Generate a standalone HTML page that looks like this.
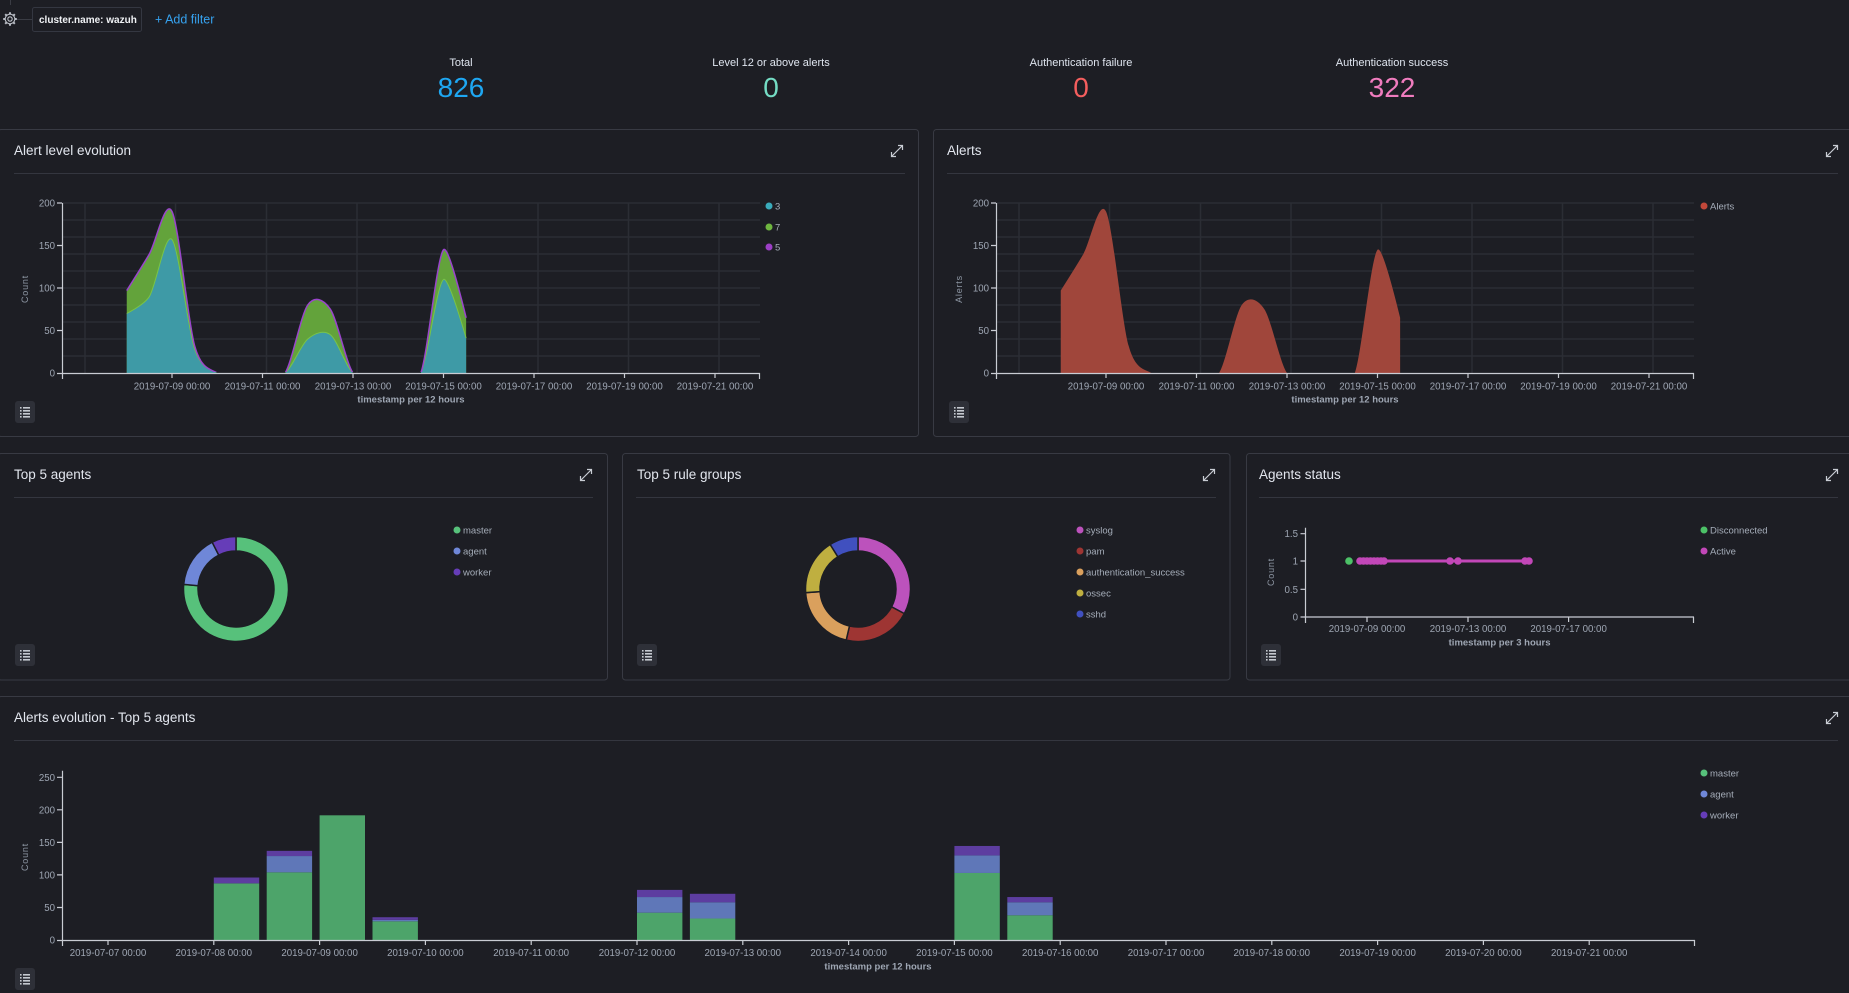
<!DOCTYPE html>
<html><head><meta charset="utf-8"><style>
html,body{margin:0;padding:0;background:#1d1e24;overflow:hidden;}
svg{display:block;}
text{font-family:"Liberation Sans",sans-serif;}
.tk{font-size:9.7px;fill:#9ea6b3;}
.lg{font-size:9.5px;fill:#a5adb9;}
.ax{font-size:9.5px;font-weight:bold;fill:#9ea6b3;}
.tt{font-size:13.5px;fill:#e2e6ee;}
.yl{font-size:9px;fill:#8d96a3;letter-spacing:0.8px;}
.sl{font-size:11px;fill:#dfe5ef;}
.sv{font-size:28px;}
</style></head><body>
<svg width="1849" height="993" viewBox="0 0 1849 993" xmlns="http://www.w3.org/2000/svg">
<defs>
<clipPath id="c1"><rect x="62" y="190" width="698" height="183"/></clipPath>
<clipPath id="c2"><rect x="62" y="190" width="698" height="182"/></clipPath>
<g id="lb"><rect width="20" height="22" rx="3" fill="#2e3038"/><g fill="#c5c9d0"><rect x="5" y="6" width="1.6" height="1.6"/><rect x="5" y="9" width="1.6" height="1.6"/><rect x="5" y="12" width="1.6" height="1.6"/><rect x="5" y="15" width="1.6" height="1.6"/><rect x="8" y="6" width="7" height="1.6"/><rect x="8" y="9" width="7" height="1.6"/><rect x="8" y="12" width="7" height="1.6"/><rect x="8" y="15" width="7" height="1.6"/></g></g>
<g id="ex" fill="none" stroke="#c9cdd4" stroke-width="1.2"><path d="M-5.5 5.5L5.5 -5.5M1 -5.5H5.5V-1M-5.5 1V5.5H-1"/></g>
</defs>
<rect width="1849" height="993" fill="#1d1e24"/>

<!-- top bar -->
<line x1="10.5" y1="0" x2="10.5" y2="5" stroke="#3a3c44"/>
<line x1="16" y1="19.5" x2="32" y2="19.5" stroke="#3a3c44"/>
<g transform="translate(10,19)" fill="none" stroke="#b8bcc4">
<circle r="2.2" stroke-width="1.1"/><circle r="4.8" stroke-width="1.1"/>
<path stroke-width="2" d="M0 -5V-6.8M0 5V6.8M-5 0H-6.8M5 0H6.8M3.5 3.5L4.8 4.8M-3.5 -3.5L-4.8 -4.8M3.5 -3.5L4.8 -4.8M-3.5 3.5L-4.8 4.8"/>
</g>
<rect x="32.5" y="7.5" width="109" height="24" rx="2" fill="#1d1e24" stroke="#343741"/>
<text x="39" y="23" font-size="10" font-weight="bold" fill="#f0f2f5">cluster.name: wazuh</text>
<text x="155" y="23.5" font-size="12.5" fill="#36a2ef">+ Add filter</text>

<!-- stats -->
<g text-anchor="middle">
<text class="sl" x="461" y="66">Total</text>
<text class="sv" x="461" y="97" fill="#1ea7f2">826</text>
<text class="sl" x="771" y="66">Level 12 or above alerts</text>
<text class="sv" x="771" y="97" fill="#74dcc4">0</text>
<text class="sl" x="1081" y="66">Authentication failure</text>
<text class="sv" x="1081" y="97" fill="#f45e5e">0</text>
<text class="sl" x="1392" y="66">Authentication success</text>
<text class="sv" x="1392" y="97" fill="#f07cbe">322</text>
</g>

<!-- panels -->
<g fill="#1d1e24" stroke="#383a43" stroke-width="1">
<rect x="-2" y="129.5" width="920.5" height="307" rx="3"/>
<rect x="933.5" y="129.5" width="930" height="307" rx="3"/>
<rect x="-2" y="453.5" width="609.5" height="226.5" rx="3"/>
<rect x="622.5" y="453.5" width="607.5" height="226.5" rx="3"/>
<rect x="1246.5" y="453.5" width="620" height="226.5" rx="3"/>
<rect x="-2" y="696.5" width="1870" height="320" rx="3"/>
</g>
<g stroke="#34363f" stroke-width="1">
<line x1="14" y1="173.5" x2="905" y2="173.5"/>
<line x1="947" y1="173.5" x2="1838" y2="173.5"/>
<line x1="14" y1="497.5" x2="593" y2="497.5"/>
<line x1="636" y1="497.5" x2="1216" y2="497.5"/>
<line x1="1259" y1="497.5" x2="1838" y2="497.5"/>
<line x1="14" y1="740.5" x2="1838" y2="740.5"/>
</g>
<text class="tt" x="14" y="155">Alert level evolution</text>
<text class="tt" x="947" y="155">Alerts</text>
<text class="tt" x="14" y="479">Top 5 agents</text>
<text class="tt" x="637" y="479">Top 5 rule groups</text>
<text class="tt" x="1259" y="479">Agents status</text>
<text class="tt" x="14" y="722">Alerts evolution - Top 5 agents</text>

<use href="#ex" x="897" y="151"/>
<use href="#ex" x="1832" y="151"/>
<use href="#ex" x="586" y="475"/>
<use href="#ex" x="1209" y="475"/>
<use href="#ex" x="1832" y="475"/>
<use href="#ex" x="1832" y="718"/>

<use href="#lb" x="15" y="401"/>
<use href="#lb" x="949" y="401"/>
<use href="#lb" x="15" y="644"/>
<use href="#lb" x="637" y="644"/>
<use href="#lb" x="1261" y="644"/>
<use href="#lb" x="15" y="968"/>

<!-- Alert level evolution chart -->
<g>
<g stroke="#2b2d34" stroke-width="1.5" fill="none">
<path d="M62 356H760M62 339H760M62 322H760M62 305H760M62 288H760M62 271H760M62 254H760M62 237H760M62 220H760M62 203H760"/>
<path d="M85 203V373M175.5 203V373M266.5 203V373M357 203V373M447.5 203V373M538 203V373M628.5 203V373M719 203V373"/>
</g>
<g clip-path="url(#c1)">
<path fill="#63a33b" d="M126.75,290.55 Q144.85,261.9 149.38,254 C156.16,242.14 165.21,197.73 172,211.5 S187.84,321.57 194.63,345.8 S210.46,368.92 217.25,373 S233.09,373 239.88,373 S255.71,373 262.5,373 S278.34,383.2 285.13,373 S300.96,314.56 307.75,305 S323.59,299.05 330.38,309.25 S346.21,363.44 353,373 S368.84,373 375.63,373 S391.46,373 398.25,373 S414.09,391.49 420.88,373 S436.71,258.04 443.5,249.75 Q448.03,244.22 466.13,317.75 L466.13,373 L126.75,373 Z"/>
<path fill="#3e9aa6" d="M126.75,313.5 Q144.85,303.89 149.38,296.5 C156.16,285.41 165.21,231.65 172,239.55 S187.84,329.18 194.63,349.2 S210.46,369.43 217.25,373 S233.09,373 239.88,373 S255.71,373 262.5,373 S278.34,378.1 285.13,373 S300.96,344.74 307.75,339 S323.59,329.65 330.38,334.75 S346.21,367.26 353,373 S368.84,373 375.63,373 S391.46,373 398.25,373 S414.09,387.03 420.88,373 S436.71,284.73 443.5,279.5 Q448.03,276.01 466.13,338.15 L466.13,373 L126.75,373 Z"/>
</g>
<g clip-path="url(#c2)" fill="none">
<path stroke="#79c447" stroke-width="1" d="M126.75,313.5 Q144.85,303.89 149.38,296.5 C156.16,285.41 165.21,231.65 172,239.55 S187.84,329.18 194.63,349.2 S210.46,369.43 217.25,373 S233.09,373 239.88,373 S255.71,373 262.5,373 S278.34,378.1 285.13,373 S300.96,344.74 307.75,339 S323.59,329.65 330.38,334.75 S346.21,367.26 353,373 S368.84,373 375.63,373 S391.46,373 398.25,373 S414.09,387.03 420.88,373 S436.71,284.73 443.5,279.5 Q448.03,276.01 466.13,338.15"/>
<path stroke="#9a45cc" stroke-width="1.5" d="M126.75,290.55 Q144.85,261.9 149.38,254 C156.16,242.14 165.21,197.73 172,211.5 S187.84,321.57 194.63,345.8 S210.46,368.92 217.25,373 S233.09,373 239.88,373 S255.71,373 262.5,373 S278.34,383.2 285.13,373 S300.96,314.56 307.75,305 S323.59,299.05 330.38,309.25 S346.21,363.44 353,373 S368.84,373 375.63,373 S391.46,373 398.25,373 S414.09,391.49 420.88,373 S436.71,258.04 443.5,249.75 Q448.03,244.22 466.13,317.75"/>
</g>
<g stroke="#c9ccd3" stroke-width="1.2" fill="none">
<path d="M62.5 203V373.5H760"/>
<path d="M57 373.5H62M57 330.5H62M57 288H62M57 245.5H62M57 203H62"/>
<path d="M62.5 373V379M759.5 373V379M172 373V378M262.5 373V378M353 373V378M443.5 373V378M534 373V378M624.5 373V378M715 373V378"/>
</g>
<g class="tk" text-anchor="end">
<text x="55" y="376.5">0</text><text x="55" y="334">50</text><text x="55" y="291.5">100</text><text x="55" y="249">150</text><text x="55" y="206.5">200</text>
</g>
<g class="tk" text-anchor="middle">
<text x="172" y="389.5">2019-07-09 00:00</text><text x="262.5" y="389.5">2019-07-11 00:00</text><text x="353" y="389.5">2019-07-13 00:00</text><text x="443.5" y="389.5">2019-07-15 00:00</text><text x="534" y="389.5">2019-07-17 00:00</text><text x="624.5" y="389.5">2019-07-19 00:00</text><text x="715" y="389.5">2019-07-21 00:00</text>
</g>
<text class="ax" x="411" y="402.5" text-anchor="middle">timestamp per 12 hours</text>
<text class="yl" transform="translate(28,289) rotate(-90)" text-anchor="middle">Count</text>
<circle cx="769" cy="206" r="3.5" fill="#3aabbb"/><text class="lg" x="775" y="209.5">3</text>
<circle cx="769" cy="227" r="3.5" fill="#6fb640"/><text class="lg" x="775" y="230.5">7</text>
<circle cx="769" cy="247" r="3.5" fill="#9c3fc6"/><text class="lg" x="775" y="250.5">5</text>
</g>

<!-- Alerts chart -->
<g transform="translate(934,0)">
<g stroke="#2b2d34" stroke-width="1.5" fill="none">
<path d="M62 356H760M62 339H760M62 322H760M62 305H760M62 288H760M62 271H760M62 254H760M62 237H760M62 220H760M62 203H760"/>
<path d="M85 203V373M175.5 203V373M266.5 203V373M357 203V373M447.5 203V373M538 203V373M628.5 203V373M719 203V373"/>
</g>
<g clip-path="url(#c1)">
<path fill="#a0463b" d="M126.75,290.55 Q144.85,261.9 149.38,254 C156.16,242.14 165.21,197.73 172,211.5 S187.84,321.57 194.63,345.8 S210.46,368.92 217.25,373 S233.09,373 239.88,373 S255.71,373 262.5,373 S278.34,383.2 285.13,373 S300.96,314.56 307.75,305 S323.59,299.05 330.38,309.25 S346.21,363.44 353,373 S368.84,373 375.63,373 S391.46,373 398.25,373 S414.09,391.49 420.88,373 S436.71,258.04 443.5,249.75 Q448.03,244.22 466.13,317.75 L466.13,373 L126.75,373 Z"/>
</g>
<g stroke="#c9ccd3" stroke-width="1.2" fill="none">
<path d="M62.5 203V373.5H760"/>
<path d="M57 373.5H62M57 330.5H62M57 288H62M57 245.5H62M57 203H62"/>
<path d="M62.5 373V379M759.5 373V379M172 373V378M262.5 373V378M353 373V378M443.5 373V378M534 373V378M624.5 373V378M715 373V378"/>
</g>
<g class="tk" text-anchor="end">
<text x="55" y="376.5">0</text><text x="55" y="334">50</text><text x="55" y="291.5">100</text><text x="55" y="249">150</text><text x="55" y="206.5">200</text>
</g>
<g class="tk" text-anchor="middle">
<text x="172" y="389.5">2019-07-09 00:00</text><text x="262.5" y="389.5">2019-07-11 00:00</text><text x="353" y="389.5">2019-07-13 00:00</text><text x="443.5" y="389.5">2019-07-15 00:00</text><text x="534" y="389.5">2019-07-17 00:00</text><text x="624.5" y="389.5">2019-07-19 00:00</text><text x="715" y="389.5">2019-07-21 00:00</text>
</g>
<text class="ax" x="411" y="402.5" text-anchor="middle">timestamp per 12 hours</text>
<text class="yl" transform="translate(28,289) rotate(-90)" text-anchor="middle">Alerts</text>
<circle cx="770" cy="206" r="3.5" fill="#c2483a"/><text class="lg" x="776" y="209.5">Alerts</text>
</g>

<!-- Donut 1 -->
<g stroke="#1d1e24" stroke-width="1.5">
<path fill="#57c17b" d="M236,536.5 A52.5,52.5 0 1 1 183.7,584.42 L198.14,585.69 A38,38 0 1 0 236,551 Z"/>
<path fill="#6f87d8" d="M183.7,584.42 A52.5,52.5 0 0 1 212.17,542.22 L218.75,555.14 A38,38 0 0 0 198.14,585.69 Z"/>
<path fill="#663db8" d="M212.17,542.22 A52.5,52.5 0 0 1 236,536.5 L236,551 A38,38 0 0 0 218.75,555.14 Z"/>
</g>
<circle cx="457" cy="530" r="3.5" fill="#57c17b"/><text class="lg" x="463" y="533.5">master</text>
<circle cx="457" cy="551" r="3.5" fill="#6f87d8"/><text class="lg" x="463" y="554.5">agent</text>
<circle cx="457" cy="572" r="3.5" fill="#663db8"/><text class="lg" x="463" y="575.5">worker</text>

<!-- Donut 2 -->
<g stroke="#1d1e24" stroke-width="1.5">
<path fill="#bc52bc" d="M858,536.5 A52.5,52.5 0 0 1 904.35,613.65 L891.55,606.84 A38,38 0 0 0 858,551 Z"/>
<path fill="#9e3533" d="M904.35,613.65 A52.5,52.5 0 0 1 846.19,640.16 L849.45,626.03 A38,38 0 0 0 891.55,606.84 Z"/>
<path fill="#daa05d" d="M846.19,640.16 A52.5,52.5 0 0 1 805.63,592.66 L820.09,591.65 A38,38 0 0 0 849.45,626.03 Z"/>
<path fill="#bfaf40" d="M805.63,592.66 A52.5,52.5 0 0 1 830.18,544.48 L837.86,556.78 A38,38 0 0 0 820.09,591.65 Z"/>
<path fill="#4050bf" d="M830.18,544.48 A52.5,52.5 0 0 1 858,536.5 L858,551 A38,38 0 0 0 837.86,556.78 Z"/>
</g>
<circle cx="1080" cy="530" r="3.5" fill="#bc52bc"/><text class="lg" x="1086" y="533.5">syslog</text>
<circle cx="1080" cy="551" r="3.5" fill="#9e3533"/><text class="lg" x="1086" y="554.5">pam</text>
<circle cx="1080" cy="572" r="3.5" fill="#daa05d"/><text class="lg" x="1086" y="575.5">authentication_success</text>
<circle cx="1080" cy="593" r="3.5" fill="#bfaf40"/><text class="lg" x="1086" y="596.5">ossec</text>
<circle cx="1080" cy="614" r="3.5" fill="#4050bf"/><text class="lg" x="1086" y="617.5">sshd</text>

<!-- Agents status -->
<g stroke="#c9ccd3" stroke-width="1.2" fill="none">
<path d="M1305.5 527.7V617H1694"/>
<path d="M1300.5 617H1305.5M1300.5 589.3H1305.5M1300.5 561H1305.5M1300.5 533.7H1305.5"/>
<path d="M1305.5 617V623M1693.5 617V623M1367 617V622M1468 617V622M1568.6 617V622"/>
</g>
<g class="tk" text-anchor="end">
<text x="1298" y="620.5">0</text><text x="1298" y="592.8">0.5</text><text x="1298" y="564.5">1</text><text x="1298" y="537.2">1.5</text>
</g>
<g class="tk" text-anchor="middle">
<text x="1367" y="632">2019-07-09 00:00</text><text x="1468" y="632">2019-07-13 00:00</text><text x="1568.6" y="632">2019-07-17 00:00</text>
</g>
<text class="ax" x="1499.6" y="645.5" text-anchor="middle">timestamp per 3 hours</text>
<text class="yl" transform="translate(1274,572) rotate(-90)" text-anchor="middle">Count</text>
<line x1="1359" y1="561" x2="1530" y2="561" stroke="#c247b8" stroke-width="3"/>
<g fill="#c247b8">
<circle cx="1360" cy="561" r="3.8"/><circle cx="1363.5" cy="561" r="3.8"/><circle cx="1367" cy="561" r="3.8"/><circle cx="1370.5" cy="561" r="3.8"/><circle cx="1374" cy="561" r="3.8"/><circle cx="1377.5" cy="561" r="3.8"/><circle cx="1381" cy="561" r="3.8"/><circle cx="1384" cy="561" r="3.8"/>
<circle cx="1450" cy="561" r="3.8"/><circle cx="1458" cy="561" r="3.8"/><circle cx="1525" cy="561" r="3.8"/><circle cx="1529" cy="561" r="3.8"/>
</g>
<circle cx="1349" cy="561" r="3.8" fill="#4cc167"/>
<circle cx="1704" cy="530" r="3.5" fill="#4cc167"/><text class="lg" x="1710" y="533.5">Disconnected</text>
<circle cx="1704" cy="551" r="3.5" fill="#c247b8"/><text class="lg" x="1710" y="554.5">Active</text>

<!-- Bottom bar chart -->
<g>
<rect x="213.8" y="883.38" width="45.4" height="56.62" fill="#4da46a"/>
<rect x="213.8" y="877.52" width="45.4" height="5.86" fill="#5d3da0"/>
<rect x="266.7" y="872.32" width="45.4" height="67.68" fill="#4da46a"/>
<rect x="266.7" y="856.05" width="45.4" height="16.27" fill="#5f77b8"/>
<rect x="266.7" y="850.84" width="45.4" height="5.21" fill="#5d3da0"/>
<rect x="319.6" y="815.31" width="45.4" height="124.69" fill="#4da46a"/>
<rect x="372.5" y="921.32" width="45.4" height="18.68" fill="#4da46a"/>
<rect x="372.5" y="919.83" width="45.4" height="1.49" fill="#5f77b8"/>
<rect x="372.5" y="917.22" width="45.4" height="2.61" fill="#5d3da0"/>
<rect x="637" y="912.67" width="45.4" height="27.33" fill="#4da46a"/>
<rect x="637" y="897.05" width="45.4" height="15.62" fill="#5f77b8"/>
<rect x="637" y="889.89" width="45.4" height="7.16" fill="#5d3da0"/>
<rect x="689.9" y="918.52" width="45.4" height="21.48" fill="#4da46a"/>
<rect x="689.9" y="902.25" width="45.4" height="16.27" fill="#5f77b8"/>
<rect x="689.9" y="893.79" width="45.4" height="8.46" fill="#5d3da0"/>
<rect x="954.4" y="872.97" width="45.4" height="67.03" fill="#4da46a"/>
<rect x="954.4" y="855.4" width="45.4" height="17.57" fill="#5f77b8"/>
<rect x="954.4" y="845.96" width="45.4" height="9.44" fill="#5d3da0"/>
<rect x="1007.3" y="915.27" width="45.4" height="24.73" fill="#4da46a"/>
<rect x="1007.3" y="902.25" width="45.4" height="13.02" fill="#5f77b8"/>
<rect x="1007.3" y="897.05" width="45.4" height="5.2" fill="#5d3da0"/>
</g>
<g stroke="#c9ccd3" stroke-width="1.2" fill="none">
<path d="M62.5 770.7V940.5H1695"/>
<path d="M57 940.5H62M57 907.5H62M57 874.9H62M57 842.4H62M57 809.8H62M57 777.3H62"/>
<path d="M62.5 940V946M1694.5 940V946M108 940V945M213.8 940V945M319.6 940V945M425.4 940V945M531.2 940V945M637 940V945M742.8 940V945M848.6 940V945M954.4 940V945M1060.2 940V945M1166 940V945M1271.8 940V945M1377.6 940V945M1483.4 940V945M1589.2 940V945"/>
</g>
<g class="tk" text-anchor="end">
<text x="55" y="943.5">0</text><text x="55" y="911">50</text><text x="55" y="878.4">100</text><text x="55" y="845.9">150</text><text x="55" y="813.3">200</text><text x="55" y="780.8">250</text>
</g>
<g class="tk" text-anchor="middle">
<text x="108" y="956">2019-07-07 00:00</text><text x="213.8" y="956">2019-07-08 00:00</text><text x="319.6" y="956">2019-07-09 00:00</text><text x="425.4" y="956">2019-07-10 00:00</text><text x="531.2" y="956">2019-07-11 00:00</text><text x="637" y="956">2019-07-12 00:00</text><text x="742.8" y="956">2019-07-13 00:00</text><text x="848.6" y="956">2019-07-14 00:00</text><text x="954.4" y="956">2019-07-15 00:00</text><text x="1060.2" y="956">2019-07-16 00:00</text><text x="1166" y="956">2019-07-17 00:00</text><text x="1271.8" y="956">2019-07-18 00:00</text><text x="1377.6" y="956">2019-07-19 00:00</text><text x="1483.4" y="956">2019-07-20 00:00</text><text x="1589.2" y="956">2019-07-21 00:00</text>
</g>
<text class="ax" x="878" y="969.5" text-anchor="middle">timestamp per 12 hours</text>
<text class="yl" transform="translate(28,857) rotate(-90)" text-anchor="middle">Count</text>
<circle cx="1704" cy="773" r="3.5" fill="#57c17b"/><text class="lg" x="1710" y="776.5">master</text>
<circle cx="1704" cy="794" r="3.5" fill="#6f87d8"/><text class="lg" x="1710" y="797.5">agent</text>
<circle cx="1704" cy="815" r="3.5" fill="#663db8"/><text class="lg" x="1710" y="818.5">worker</text>
</svg>
</body></html>
